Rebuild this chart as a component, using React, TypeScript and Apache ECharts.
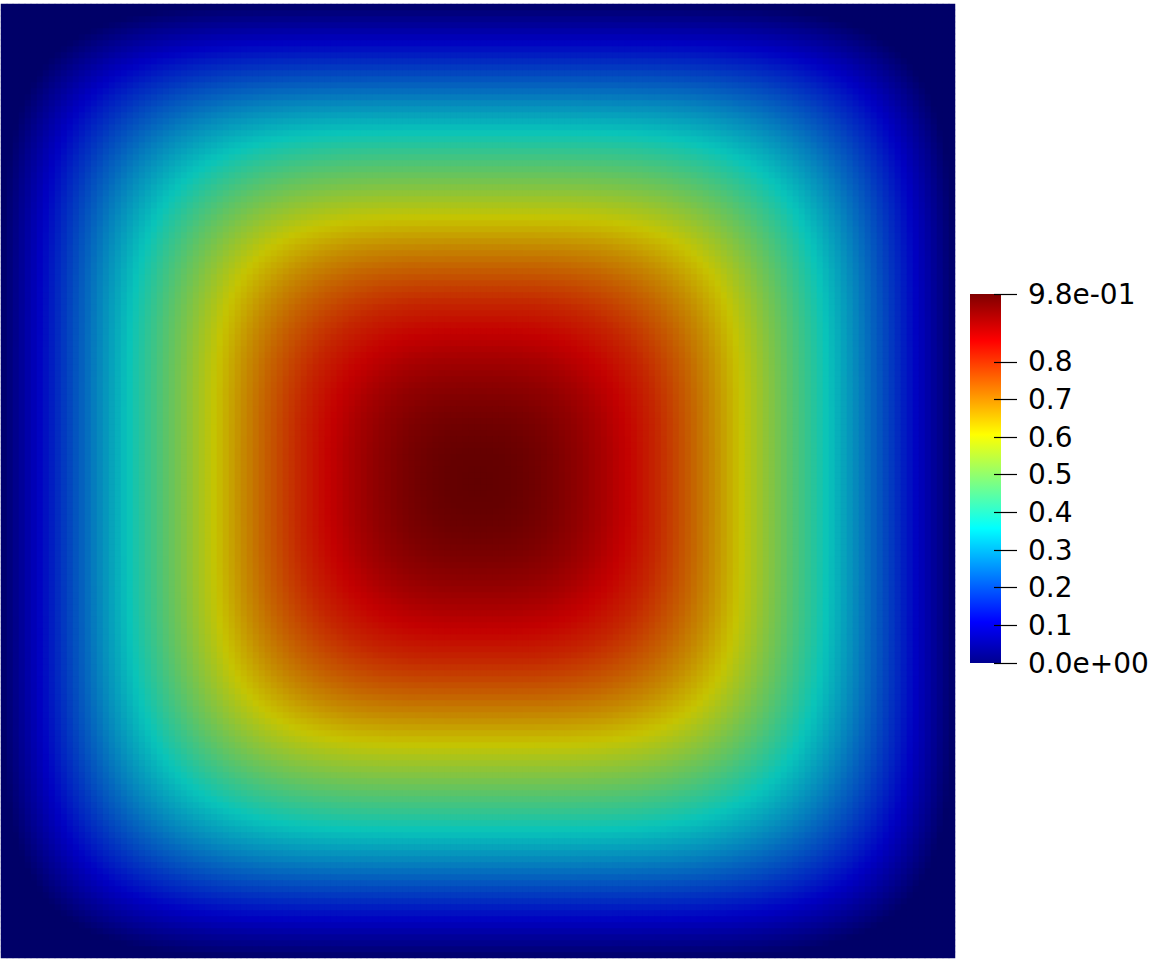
import React, { useEffect, useRef } from "react";
import * as echarts from "echarts";

// Field value, by distance (px) from the square's edge
const edgeDistance = [0, 20, 38, 60, 80, 100, 127, 150, 175, 200, 214, 240, 260, 280, 300, 328, 350, 375, 400, 425, 450, 477];
const centreLineValue = [0, 0.057, 0.109, 0.172, 0.229, 0.286, 0.358, 0.424, 0.495, 0.567, 0.607, 0.676, 0.725, 0.770, 0.811, 0.856, 0.890, 0.922, 0.947, 0.965, 0.976, 0.98];
// Shape of the iso-lines: superellipse exponent by distance from the centre (px)
const contourRadius = [0, 149, 263, 350, 440, 477];
const contourExponent = [2.5, 2.8, 4.0, 4.2, 5.5, 6.0];
const CELLS = 159;
const HALF_SIZE = 477;

// Colour bar tick values and labels
const tickValues = [0, 0.1, 0.2, 0.3, 0.4, 0.5, 0.6, 0.7, 0.8, 0.98];
const tickLabels = ["0.0e+00", "0.1", "0.2", "0.3", "0.4", "0.5", "0.6", "0.7", "0.8", "9.8e-01"];
const RANGE_MIN = 0;
const RANGE_MAX = 0.98;

// jet colour map (shaded on the surface, full brightness on the bar)
const jetPositions = [0, 0.111, 0.365, 0.619, 0.873, 1];
const surfaceColors = [[0, 0, 104], [0, 0, 194], [8, 196, 186], [198, 196, 0], [196, 0, 0], [98, 0, 0]];
const barColors = ["#000090", "#0000ff", "#00ffff", "#ffff00", "#ff0000", "#800000"];

function lookup(xs: number[], ys: number[], x: number): number {
  if (x <= xs[0]) return ys[0];
  for (let k = 1; k < xs.length; k++) {
    if (x <= xs[k]) {
      const t = (x - xs[k - 1]) / (xs[k] - xs[k - 1]);
      return ys[k - 1] + t * (ys[k] - ys[k - 1]);
    }
  }
  return ys[ys.length - 1];
}

function contourLevel(dx: number, dy: number): number {
  // find the iso-line (distance R from the centre) passing through (dx, dy)
  let lo = Math.max(dx, dy);
  let hi = dx + dy;
  if (hi - lo < 1e-9) return lo;
  for (let it = 0; it < 24; it++) {
    const R = (lo + hi) / 2;
    const p = lookup(contourRadius, contourExponent, R);
    const n = Math.pow(Math.pow(dx, p) + Math.pow(dy, p), 1 / p);
    if (n > R) lo = R;
    else hi = R;
  }
  return (lo + hi) / 2;
}

function buildField() {
  const data: number[][] = [];
  const step = (2 * HALF_SIZE) / CELLS;
  const mid = (CELLS - 1) / 2;
  for (let i = 0; i < CELLS; i++) {
    for (let j = 0; j < CELLS; j++) {
      const dx = Math.abs((i - mid) * step);
      const dy = Math.abs((j - mid) * step);
      const R = contourLevel(dx, dy);
      const d = HALF_SIZE - R;
      const v = d <= 0 ? 0 : lookup(edgeDistance, centreLineValue, d);
      data.push([i, j, +v.toFixed(4)]);
    }
  }
  return data;
}

function colorList(): string[] {
  const out: string[] = [];
  const n = 121;
  for (let k = 0; k < n; k++) {
    const f = k / (n - 1);
    let s = 1;
    while (s < jetPositions.length - 1 && f > jetPositions[s]) s++;
    const t = (f - jetPositions[s - 1]) / (jetPositions[s] - jetPositions[s - 1]);
    const a = surfaceColors[s - 1];
    const b = surfaceColors[s];
    const c = a.map((v, q) => Math.round(v + t * (b[q] - v)));
    out.push(`rgb(${c[0]},${c[1]},${c[2]})`);
  }
  return out;
}

const labelFormatter = (v: number) => {
  const idx = tickValues.findIndex((t) => Math.abs(t - v) < 1e-6);
  return idx >= 0 ? tickLabels[idx] : "";
};

export default function App() {
  const ref = useRef<HTMLDivElement>(null);
  useEffect(() => {
    if (!ref.current) return;
    const chart = echarts.init(ref.current, undefined, { renderer: "svg" });
    const cats = Array.from({ length: CELLS }, (_, k) => String(k));
    chart.setOption({
      animation: false,
      backgroundColor: "#ffffff",
      grid: [
        { left: 1, top: 4, width: 954, height: 954 },
        { left: 970, top: 294, width: 31, height: 369 },
        { left: 994, top: 294, width: 23, height: 369 },
      ],
      xAxis: [
        { type: "category", data: cats, gridIndex: 0, show: false },
        { type: "value", gridIndex: 1, show: false, min: 0, max: 1 },
        { type: "value", gridIndex: 2, show: false, min: 0, max: 1 },
      ],
      yAxis: [
        { type: "category", data: cats, gridIndex: 0, show: false },
        {
          type: "value",
          gridIndex: 1,
          min: RANGE_MIN,
          max: RANGE_MAX,
          position: "right",
          axisLine: { show: false },
          splitLine: { show: false },
          axisTick: { show: false },
          axisLabel: {
            customValues: tickValues,
            margin: 27,
            color: "#000000",
            fontSize: 28,
            fontFamily: "DejaVu Sans",
            formatter: labelFormatter,
          },
        },
        {
          type: "value",
          gridIndex: 2,
          min: RANGE_MIN,
          max: RANGE_MAX,
          position: "left",
          z: 20,
          axisLine: { show: false },
          splitLine: { show: false },
          axisLabel: { show: false },
          axisTick: {
            show: true,
            inside: true,
            length: 23,
            customValues: tickValues,
            lineStyle: { color: "#000000", width: 1.2 },
          },
        },
      ],
      visualMap: [
        {
          type: "continuous",
          show: false,
          min: RANGE_MIN,
          max: RANGE_MAX,
          seriesIndex: 0,
          inRange: { color: colorList() },
        },
      ],
      graphic: [
        {
          type: "rect",
          z: -1,
          shape: { x: 970, y: 294, width: 31, height: 369 },
          style: {
            fill: new echarts.graphic.LinearGradient(0, 1, 0, 0, jetPositions.map((o, k) => ({ offset: o, color: barColors[k] }))),
          },
        },
      ],
      series: [
        {
          type: "heatmap",
          xAxisIndex: 0,
          yAxisIndex: 0,
          data: buildField(),
          progressive: 0,
          itemStyle: { borderWidth: 0 },
          emphasis: { disabled: true },
        },
      ],
    });
    return () => chart.dispose();
  }, []);
  return <div ref={ref} style={{ position: "fixed", left: 0, top: 0, width: 1152, height: 961 }} />;
}
